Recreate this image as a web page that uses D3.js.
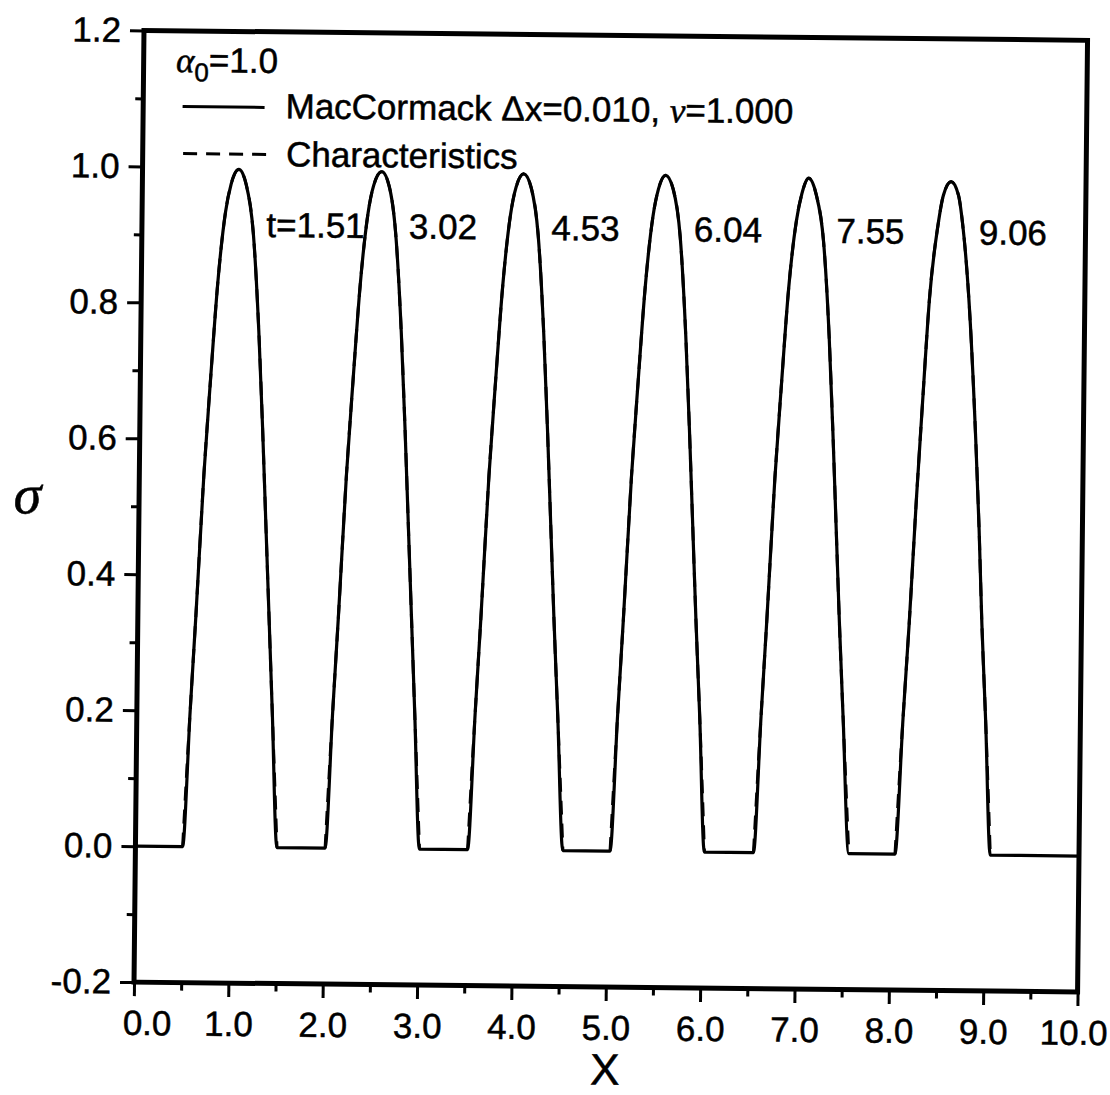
<!DOCTYPE html>
<html>
<head>
<meta charset="utf-8">
<script src="https://cdn.jsdelivr.net/npm/d3@7"></script>
<style>
  html, body { margin: 0; padding: 0; background: #fff; }
  svg { display: block; }
  text { font-family: "Liberation Sans", Arial, Helvetica, sans-serif; fill: #000; stroke: #000; stroke-width: 0.5px; }
</style>
</head>
<body>
<svg id="chart" width="1110" height="1095"></svg>
<script>
// Pulse arrival times and their labels
const times = [1.51, 3.02, 4.53, 6.04, 7.55, 9.06];
const timeLabels = ["t=1.51", "3.02", "4.53", "6.04", "7.55", "9.06"];

// sigma(x) for each pulse, [x, sigma]
const pulse1 = [[0.50,0],[0.565,0.20],[0.615,0.34],[0.685,0.55],[0.745,0.69],[0.81,0.83],[0.885,0.935],[0.94,0.975],[1.02,0.997],[1.10,0.975],[1.18,0.905],[1.25,0.76],[1.30,0.62],[1.345,0.48],[1.39,0.34],[1.435,0.20],[1.50,0]];
const pulse2 = [[2.01,0],[2.075,0.20],[2.125,0.34],[2.195,0.55],[2.255,0.69],[2.32,0.83],[2.395,0.935],[2.45,0.975],[2.535,0.996],[2.615,0.975],[2.69,0.905],[2.76,0.76],[2.81,0.62],[2.855,0.48],[2.90,0.34],[2.945,0.20],[3.01,0]];
const pulse3 = [[3.52,0],[3.585,0.20],[3.635,0.34],[3.705,0.55],[3.765,0.69],[3.83,0.83],[3.905,0.935],[3.96,0.975],[4.04,0.995],[4.12,0.975],[4.20,0.905],[4.27,0.76],[4.32,0.62],[4.365,0.48],[4.41,0.34],[4.46,0.20],[4.53,0]];
const pulse4 = [[5.03,0],[5.095,0.20],[5.145,0.34],[5.215,0.55],[5.275,0.69],[5.34,0.83],[5.415,0.935],[5.47,0.975],[5.545,0.995],[5.625,0.975],[5.705,0.905],[5.775,0.76],[5.825,0.62],[5.87,0.48],[5.915,0.34],[5.965,0.20],[6.03,0]];
const pulse5 = [[6.55,0],[6.615,0.20],[6.665,0.34],[6.735,0.55],[6.795,0.69],[6.86,0.83],[6.935,0.93],[6.99,0.97],[7.06,0.993],[7.14,0.97],[7.225,0.90],[7.295,0.76],[7.345,0.62],[7.39,0.48],[7.435,0.34],[7.485,0.20],[7.56,0]];
const pulse6 = [[8.05,0],[8.12,0.20],[8.175,0.34],[8.24,0.53],[8.29,0.66],[8.355,0.82],[8.435,0.925],[8.49,0.97],[8.57,0.99],[8.65,0.97],[8.695,0.93],[8.77,0.82],[8.86,0.61],[8.905,0.48],[8.945,0.34],[8.995,0.20],[9.06,0]];
const pulses = [pulse1, pulse2, pulse3, pulse4, pulse5, pulse6];

// Axis ticks
const xTickValues = [0,1,2,3,4,5,6,7,8,9,10];
const xTickLabels = ["0.0","1.0","2.0","3.0","4.0","5.0","6.0","7.0","8.0","9.0","10.0"];
const xMinorValues = [0.5,1.5,2.5,3.5,4.5,5.5,6.5,7.5,8.5,9.5];
const yTickValues = [-0.2,0,0.2,0.4,0.6,0.8,1.0,1.2];
const yTickLabels = ["-0.2","0.0","0.2","0.4","0.6","0.8","1.0","1.2"];
const yMinorValues = [-0.1,0.1,0.3,0.5,0.7,0.9,1.1];

const svg = d3.select("#chart");
const W = 1110, H = 1095;
svg.append("rect").attr("width", W).attr("height", H).attr("fill", "#fff");

// the printed page sits slightly tilted
const g = svg.append("g").attr("transform", "rotate(0.6, 555, 547)");

const plot = { left: 138.6, right: 1082.2, top: 34.8, bottom: 986.5 };
const x = d3.scaleLinear().domain([0, 10]).range([plot.left, plot.right]);
const y = d3.scaleLinear().domain([-0.2, 1.2]).range([plot.bottom, plot.top]);

const FONT = 35;

// ticks: majors with labels, minors bare
const xAxis = d3.axisBottom(x).tickValues(xTickValues)
  .tickFormat((d, i) => xTickLabels[i]).tickSize(14).tickPadding(14);
const xMinor = d3.axisBottom(x).tickValues(xMinorValues).tickFormat("").tickSize(8);
const yAxis = d3.axisLeft(y).tickValues(yTickValues)
  .tickFormat((d, i) => yTickLabels[i]).tickSize(14).tickPadding(9);
const yMinor = d3.axisLeft(y).tickValues(yMinorValues).tickFormat("").tickSize(8);

function styleAxis(sel) {
  sel.select(".domain").remove();
  sel.selectAll(".tick line").attr("stroke", "#000").attr("stroke-width", 3);
  sel.selectAll("text").attr("font-size", FONT).attr("fill", "#000")
    .style("font-family", "'Liberation Sans', Arial, Helvetica, sans-serif");
}
const gx = g.append("g").attr("transform", `translate(0,${plot.bottom})`).call(xAxis).call(styleAxis);
g.append("g").attr("transform", `translate(0,${plot.bottom})`).call(xMinor).call(styleAxis);
const gy = g.append("g").attr("transform", `translate(${plot.left},0)`).call(yAxis).call(styleAxis);
g.append("g").attr("transform", `translate(${plot.left},0)`).call(yMinor).call(styleAxis);

// end labels pulled inside the frame corners
gx.selectAll(".tick text").attr("dx", (d) => d === 0 ? 13 : (d === 10 ? -4 : 0));

// frame
g.append("rect")
  .attr("x", plot.left).attr("y", plot.top)
  .attr("width", plot.right - plot.left).attr("height", plot.bottom - plot.top)
  .attr("fill", "none").attr("stroke", "#000").attr("stroke-width", 5);

const line = d3.line().x(d => x(d[0])).y(d => y(d[1])).curve(d3.curveMonotoneX);

// characteristics solution (dashed), lying under the numerical one
pulses.forEach(p => {
  g.append("path").datum(p).attr("d", line)
    .attr("fill", "none").attr("stroke", "#000").attr("stroke-width", 3)
    .attr("stroke-dasharray", "14,9");
});

// MacCormack solution (solid) across the whole domain
const macCormack = [[0, 0]].concat(...pulses, [[10, 0]]);
g.append("path").datum(macCormack).attr("d", line)
  .attr("fill", "none").attr("stroke", "#000").attr("stroke-width", 3.2)
  .attr("stroke-linejoin", "round");

// time labels beside each pulse
g.selectAll(".tlabel").data(times).join("text")
  .attr("class", "tlabel")
  .attr("x", d => x(d) - 18)
  .attr("y", 240)
  .attr("font-size", FONT)
  .text((d, i) => timeLabels[i]);

// legend
const alpha = g.append("text").attr("x", 171).attr("y", 76).attr("font-size", FONT);
alpha.append("tspan").attr("font-style", "italic")
  .style("font-family", "'Liberation Serif', 'DejaVu Serif', serif").text("α");
alpha.append("tspan").attr("font-size", 26).attr("dy", 9).text("0");
alpha.append("tspan").attr("dy", -9).text("=1.0");

g.append("line").attr("x1", 178).attr("x2", 260).attr("y1", 110.5).attr("y2", 110.5)
  .attr("stroke", "#000").attr("stroke-width", 3);
const mc = g.append("text").attr("x", 281).attr("y", 121).attr("font-size", FONT);
mc.append("tspan").text("MacCormack Δx=0.010, ");
mc.append("tspan").attr("font-style", "italic")
  .style("font-family", "'Liberation Serif', 'DejaVu Serif', serif").text("ν");
mc.append("tspan").text("=1.000");

g.append("line").attr("x1", 179).attr("x2", 262).attr("y1", 157.5).attr("y2", 157.5)
  .attr("stroke", "#000").attr("stroke-width", 3).attr("stroke-dasharray", "14,9");
g.append("text").attr("x", 282).attr("y", 169).attr("font-size", FONT).text("Characteristics");

// axis titles
g.append("text").attr("x", 27).attr("y", 519).attr("text-anchor", "middle")
  .attr("font-size", 56).attr("font-style", "italic")
  .style("font-family", "'Liberation Serif', 'DejaVu Serif', serif").text("σ");
g.append("text").attr("x", (plot.left + plot.right) / 2).attr("y", 1084)
  .attr("text-anchor", "middle").attr("font-size", 44).text("X");
</script>
</body>
</html>
